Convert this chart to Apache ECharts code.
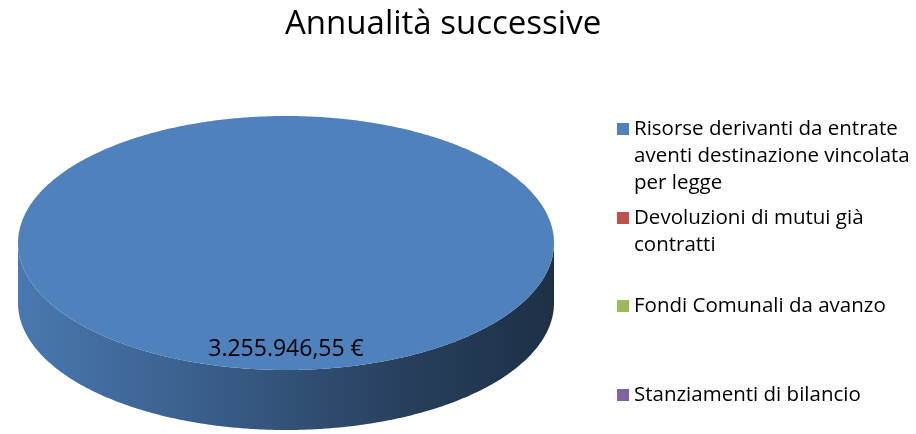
<!DOCTYPE html>
<html><head><meta charset="utf-8">
<script src="https://cdn.jsdelivr.net/npm/echarts@6/dist/echarts.min.js"></script>
<style>html,body{margin:0;padding:0;background:#fff}#c{width:916px;height:434px}</style>
</head><body><div id="c"></div>
<script>
const titleText = 'Annualità successive';
const categories = [
  'Risorse derivanti da entrate aventi destinazione vincolata per legge',
  'Devoluzioni di mutui già contratti',
  'Fondi Comunali da avanzo',
  'Stanziamenti di bilancio'
];
const legendLines = [
  ['Risorse derivanti da entrate', 'aventi destinazione vincolata', 'per legge'],
  ['Devoluzioni di mutui già', 'contratti'],
  ['Fondi Comunali da avanzo'],
  ['Stanziamenti di bilancio']
];
const values = [3255946.55, 0, 0, 0];
const colors = ['#4F81BD', '#C0504D', '#9BBB59', '#8064A2'];

const FONT = '"Open Sans", "Noto Sans", sans-serif';
const PIE = { cx: 286, cy: 243, rx: 268, ry: 127, depth: 60 };
const LEGEND_ICON_Y = [129, 218, 306, 395];
const LINE_H = 27;

function fmtEuro(v) {
  const parts = v.toFixed(2).split('.');
  const ip = parts[0].replace(/\B(?=(\d{3})+(?!\d))/g, '.');
  return ip + ',' + parts[1] + ' €';
}
function shade(hex, f) {
  const n = parseInt(hex.slice(1), 16);
  const r = Math.round(((n >> 16) & 255) * f), g = Math.round(((n >> 8) & 255) * f), b = Math.round((n & 255) * f);
  return 'rgb(' + r + ',' + g + ',' + b + ')';
}
const total = values.reduce((a, b) => a + b, 0);

function arcPoints(a0, a1, dy) {
  const pts = [];
  const n = Math.max(2, Math.ceil(Math.abs(a1 - a0) / (Math.PI / 360)));
  for (let k = 0; k <= n; k++) {
    const t = a0 + (a1 - a0) * k / n;
    pts.push([PIE.cx + PIE.rx * Math.sin(t), PIE.cy - PIE.ry * Math.cos(t) + dy]);
  }
  return pts;
}

function makeRender(i) {
  return function (params, api) {
    const v = api.value(0);
    if (!(v > 0)) return null;
    let before = 0;
    for (let j = 0; j < i; j++) before += values[j];
    const a0 = before / total * 2 * Math.PI, a1 = (before + v) / total * 2 * Math.PI;
    const base = colors[i];
    const children = [];
    const s0 = Math.max(a0, Math.PI / 2), s1 = Math.min(a1, 3 * Math.PI / 2);
    if (s1 > s0) {
      const top = arcPoints(s0, s1, 0);
      const bot = arcPoints(s1, s0, PIE.depth);
      children.push({
        type: 'polygon',
        shape: { points: top.concat(bot) },
        style: {
          fill: new echarts.graphic.LinearGradient(0, 0, 1, 0, [
            { offset: 0, color: shade(base, 0.93) },
            { offset: 0.3, color: shade(base, 0.76) },
            { offset: 0.7, color: shade(base, 0.5) },
            { offset: 1, color: shade(base, 0.37) }
          ])
        }
      });
    }
    const full = (a1 - a0) >= 2 * Math.PI - 1e-9;
    const facePts = full ? arcPoints(0, 2 * Math.PI, 0) : [[PIE.cx, PIE.cy]].concat(arcPoints(a0, a1, 0));
    children.push({ type: 'polygon', shape: { points: facePts }, style: { fill: base } });
    const mid = (a0 + a1) / 2;
    const lx = full ? PIE.cx : PIE.cx + PIE.rx * 0.6 * Math.sin(mid);
    const ly = full ? PIE.cy + PIE.ry * 0.835 : PIE.cy - PIE.ry * 0.6 * Math.cos(mid);
    children.push({
      type: 'text',
      style: { text: fmtEuro(v), x: lx, y: ly, align: 'center', verticalAlign: 'middle',
               font: '23px ' + FONT, fill: '#000' }
    });
    return { type: 'group', children: children };
  };
}

const chart = echarts.init(document.getElementById('c'), null, { renderer: 'canvas' });
chart.setOption({
  animation: false,
  backgroundColor: '#fff',
  title: {
    text: titleText, left: 285, top: 8, padding: 0,
    textStyle: { fontFamily: FONT, fontSize: 33, fontWeight: 'normal', color: '#000' }
  },
  legend: categories.map((name, i) => ({
    data: [name],
    left: 617,
    top: LEGEND_ICON_Y[i] - (2 * legendLines[i].length - 1) * LINE_H / 2,
    orient: 'vertical', icon: 'rect', itemWidth: 12, itemHeight: 12,
    padding: 0, itemGap: 0, selectedMode: false,
    formatter: () => '\n'.repeat(legendLines[i].length - 1) + legendLines[i].join('\n'),
    textStyle: { fontFamily: FONT, fontSize: 20.5, lineHeight: LINE_H, color: '#000' }
  })),
  series: categories.map((name, i) => ({
    type: 'custom', name: name, coordinateSystem: 'none', silent: true,
    itemStyle: { color: colors[i] },
    data: [[values[i]]],
    renderItem: makeRender(i)
  }))
});
</script></body></html>
